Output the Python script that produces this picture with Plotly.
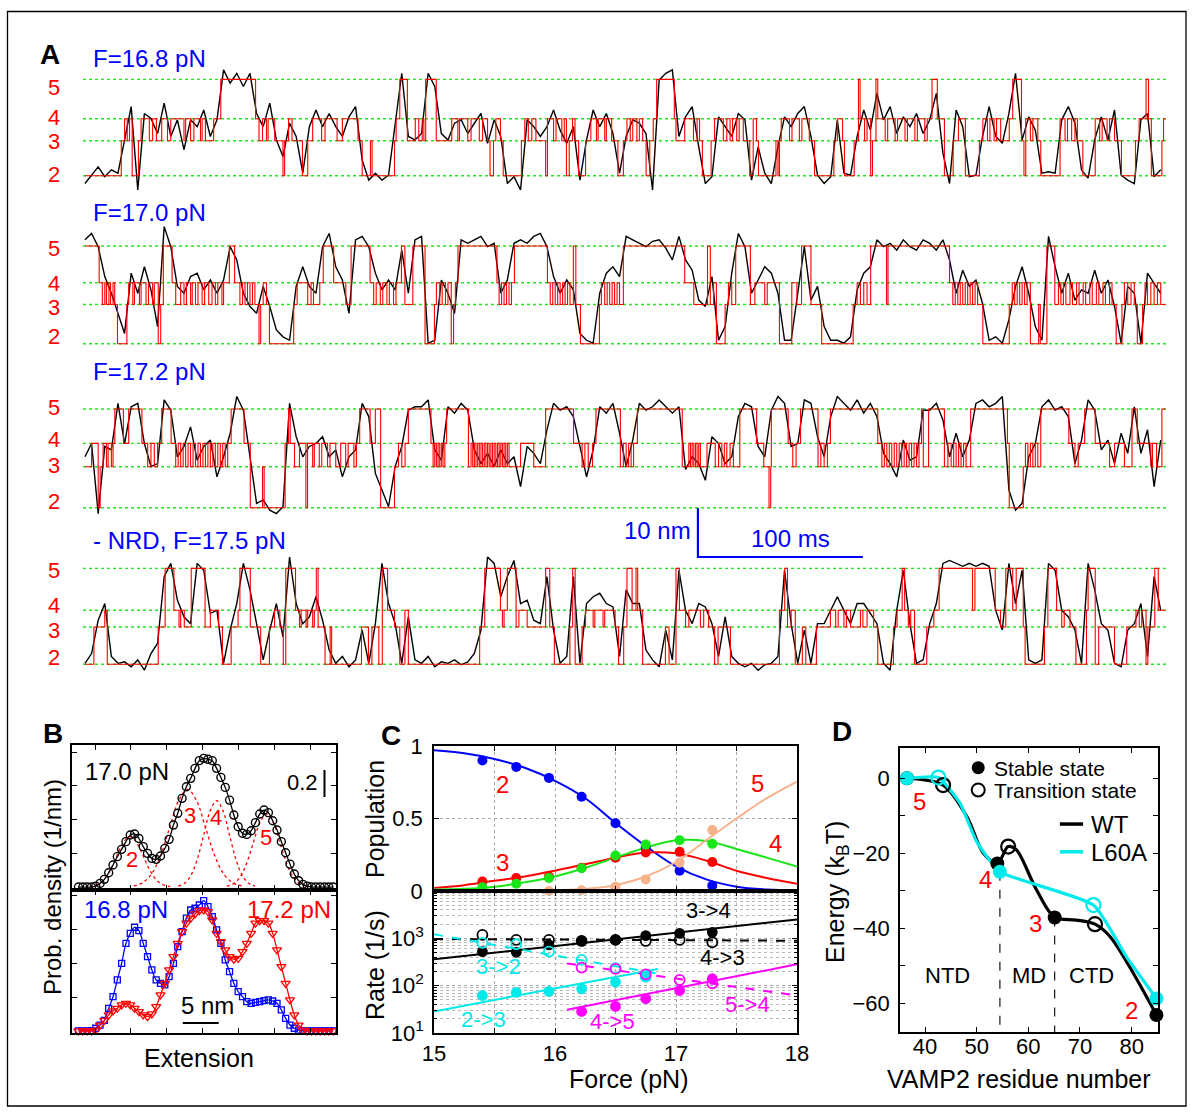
import numpy as np
import plotly.graph_objects as go

# ---------------------------------------------------------------- data ----
# Panel A: red step traces as (state, segment end time in ms)
T1_STEPS = [
(2,22),(3,24),(4,25.6),(3,27),(4,28.6),(2,32.4),(3,34),
(4,39),(3,41),(4,43.3),(3,46.5),(4,50),(3,52),(4,60),(3,61),(4,64),(3,66),(4,70),(3,71),(4,73),(3,78),(4,82.3),
(5,103.4),(4,105.5),(3,107.6),(4,110),(3,111),(4,115),(3,120),(2,121),(3,123.4),(4,125.5),(3,131.8),(2,135),(3,138),
(4,143.4),(3,145.5),(4,152.8),(3,156),(4,165.5),(3,168),(2,173),(3,174),(2,187.6),(3,188.6),(4,190.8),(5,195.4),
(3,200.2),(4,202.3),(3,204.4),(4,205.4),(3,206.5),(5,212.9),(3,222.3),
(4,226),(3,227),(4,232),(3,234),(4,239),(3,241),(4,244),(3,245.5),(2,247.6),(3,249),(4,251.8),(3,253.5),(2,264.5),(3,266.6),(4,268.7),(3,270.8),(4,273.3),(3,279.2),(2,280.3),
(4,284),(3,285.5),(4,289),(3,290.5),(4,291.8),(2,293.5),(3,295.5),(4,297),(3,299.2),(2,303.4),(3,306.6),
(4,310),(3,311),(4,315),(3,316),(4,319.2),(3,323),(2,326.3),
(3,328.5),(4,330.5),(3,332),(4,334.5),(3,336),(4,338),(3,340.1),(2,342.3),(3,344.4),(4,346.5),(5,357.2),(4,358.2),(3,363.5),(4,368.8),(3,371),(4,372.5),(3,374.2),(2,379.5),(3,381.6),(4,386.9),
(3,389),(4,391),(3,392.5),(4,395),(3,396.5),(4,399),(3,402.9),(2,405),(4,407),(3,408.2),(2,418.8),(3,420),(2,420.9),(3,422),
(4,427),(3,428.5),(4,433),(3,434.5),(4,439),(3,442.2),(2,453.9),(3,456),(4,459.2),(3,460.3),(2,466.2),(3,468.8),(5,469.8),(4,472.5),(3,474),(4,476.2),(2,477.3),(3,479.4),(5,480.5),
(4,485),(3,486.5),(4,491),(3,492.5),(4,497),(3,498.5),(4,503),(3,504.5),(4,509),(3,510.5),(4,513.4),(5,516.6),(4,520.9),(2,526.2),(3,529.4),(4,533.6),(2,542.1),(3,544.2),
(4,547),(3,548.5),(4,551),(3,552.5),(4,555),(3,560.2),(4,562.3),(5,567.6),(3,569.1),(2,570.2),
(4,573),(3,574.5),(4,577.5),(3,579.3),(2,591),
(4,594),(3,595.5),(4,598),(3,600),(4,601.5),(3,604.8),(2,612.3),
(4,615),(3,616.5),(4,619.5),(3,621),(4,624),(3,628.2),(2,636.7),(3,638.9),(4,643.1),(5,644.6),(4,646.3),(2,652.7),(3,653.7),(4,655)]

T2_STEPS = [
(5,8.6),(4,10.5),(3,12),(4,13),(3,14.5),(4,15.5),(3,17),(4,18),(3,19.7),(2,25.4),
(3,26.5),(4,29),(3,30),(4,33),(3,34),(4,37),(3,38.5),(4,41),(3,42),(4,44.4),(2,45.9),(3,47.5),(5,52.8),
(4,55),(3,58),(4,60),(3,61.5),(4,64),(3,65),(4,67),(3,68.5),(4,71),(3,72.5),(4,75),(3,77),(4,79),(3,80.5),(4,83),(3,84),(4,87.5),(5,90.7),(4,93.9),
(3,95.5),(4,97),(3,98.5),(4,100),(3,101.5),(4,103),(3,105.5),(2,106.5),(3,108),(4,110),(3,111.8),(2,126.5),(3,128.6),(4,135),(3,137),(4,138.5),(3,142.3),(4,144.4),(5,150.7),(4,158.1),(3,161.3),(5,172.8),
(4,175),(3,176.5),(4,179),(3,180.5),(4,183),(3,184.5),(4,187),(3,188.5),(4,191.8),(5,193.9),(3,198.7),(5,206.1),(2,211.8),
(3,213),(4,215),(3,216.5),(4,218.5),(3,220),(4,222),(2,223.4),(3,224.5),(4,226.1),(5,249.7),
(4,251),(3,252.5),(4,254),(3,255.5),(4,257),(3,258.5),(4,260.3),(5,280.3),
(4,282),(3,283.5),(4,285),(3,286.5),(4,288),(3,289.5),(4,291),(3,292.5),(4,294),(3,296),(5,297.5),(3,300.3),(2,311.8),
(3,313),(4,315),(3,316.5),(4,318),(3,319.5),(4,321),(3,322.5),(4,324),(3,326.3),(5,363.5),
(4,369),(3,377.3),(5,379),(3,381),(4,382.7),(2,388),(3,390),(4,392),(3,394.4),(5,403.3),(3,406),(4,412),(3,413.5),(4,420.9),(2,428.4),(4,431.5),(3,434.3),(5,440),(3,446.5),(2,465.6),
(3,468),(4,470),(3,472),(4,474),(3,476.2),(5,485.8),(3,486.7),(5,524),
(4,526),(3,527.5),(4,529),(3,530.5),(4,532),(3,533.5),(4,535),(3,536.5),(4,538),(3,539.5),(4,541),(3,544.2),(2,560.2),
(3,562),(4,563.5),(3,565),(4,566.5),(3,568),(4,569.5),(3,571),(4,573),(2,578),(3,579),(2,583),(5,587.8),
(3,590),(4,591.5),(3,593),(4,594.5),(3,597),(4,598.5),(3,601),(4,602.5),(3,605),(4,606.5),(3,609),(4,610.5),(3,613),(4,614.5),(3,617),(4,618.5),(3,621),(4,622.5),(3,625),(2,628.5),
(3,630),(4,632),(3,634),(4,636),(3,637.8),(2,641),(3,642.5),(4,644),(3,646),(4,648),(3,650),(4,652),(3,655)]

T3_STEPS = [
(3,4),(4,8),(2,9.2),(3,11),(4,13),(3,14),(4,16),(3,17),(4,18.1),(5,23.3),(4,26.5),(5,34.5),(4,38),(3,40),(4,42),(3,44),(4,46.5),(5,52.2),
(4,55),(3,56.5),(4,58),(3,59.5),(4,61),(3,62.5),(4,64),(3,65.5),(4,67),(3,68.5),(4,70),(3,71.5),(4,73),(3,74.5),(4,76),(3,77.5),(4,79),(3,80.5),(4,82),(3,83.5),(4,85),(3,86.5),(4,88.6),(5,96.4),(4,100.2),(2,107.6),(3,108.6),(2,121.3),(4,123.4),(5,124.4),
(4,127),(3,130),(4,133.9),(2,134.9),(4,138),(3,139),(4,142),(3,143.5),(4,147),(3,148.5),(4,152),(3,155),(4,158),(3,159.5),(4,163),(3,164.5),(4,166.5),(5,172.8),(4,176),(5,179.2),(2,187.6),(3,190),(4,192),(3,194),(4,196),(5,209.7),
(4,211),(3,212),(4,213),(3,214),(4,215),(3,216),(4,217),(3,218.1),(4,219.2),(5,232.4),
(3,234),(4,235),(3,236),(4,237),(3,238),(4,239),(3,240),(4,241),(3,242),(4,243),(3,244),(4,245),(3,246),(4,247),(3,248),(4,249),(3,250),(4,251),(3,252),(4,253),(3,254),(4,255),(3,256),(4,257),(3,264),(4,272),(3,279.2),(5,296.1),(4,301.3),(3,303),(4,305),(3,307.6),(4,309.7),(5,324.5),(3,326.3),
(4,328),(3,329.5),(4,331),(3,332.5),(4,334.8),(5,362),(3,366),(4,367),(3,368),(4,369),(3,370),(4,371),(3,372),(4,373),(3,377),(4,382),(3,384),(4,386),(3,387.5),(4,389),(3,391),(4,393),(3,396.9),(5,407.1),(4,411.4),(3,414.6),(2,415.6),(3,416),(5,426.2),(4,429),(3,431),(4,433.7),(5,444.3),(3,446),(4,448),(3,450),(4,451.8),(5,480.5),
(4,483),(3,484.5),(4,486),(3,487.5),(4,489),(3,490.5),(4,492),(3,493.5),(4,495),(3,496.5),(4,498),(3,499.5),(4,501),(3,502.5),(4,504),(3,505.5),(4,507),(5,508.1),(3,511.3),(5,520.9),
(3,523),(4,525),(3,526.5),(4,528),(3,529.5),(4,531),(3,532.5),(4,534),(3,536.8),(5,559.1),(4,560.2),(2,568.7),
(3,570),(4,571.5),(3,573),(4,574.5),(3,576),(4,577.5),(3,579.3),(5,596.3),(4,600),(3,602),(4,605.9),(5,612.3),(4,621),(3,624),(4,630),(3,634.6),(5,637.8),(4,646),(3,647),(4,649.5),(3,652.7),(5,655)]

T4_STEPS = [
(2,5.4),(3,12),(4,13.5),(2,44.4),(3,48.6),(5,53.9),(4,57),(3,58),(4,60.2),(3,64.4),(5,72.8),(3,76),(4,81),(3,83.3),(2,88.6),(3,92.8),(4,93.9),(5,100.2),(3,106.5),(2,111.8),(3,114.9),(4,118.1),(3,120.2),(2,121.7),(5,127.6),
(4,130),(3,131),(4,134),(3,135),(4,138),(3,139),(4,140.2),(5,141.3),(3,145.5),(2,148.6),(3,149.5),(2,167.6),(3,171.8),(2,173.9),(3,178.1),(2,180.2),(5,183.4),(4,187.6),(3,190.8),(2,193.9),(4,196),(2,239.2),(3,242.3),(5,251.8),(4,253),(3,254),(4,256),(5,261.3),(3,263),(4,268),(3,279.2),(5,281.7),(3,284.5),(2,293.9),(3,295.6),(5,297.1),(2,301.3),(3,303.4),(4,308),(3,309),(4,314),(3,315),(4,321.3),(3,323.4),(2,326.5),
(3,328.5),(5,331.6),(4,334),(5,335),(4,338),(2,351.8),(3,354),(2,358.2),(5,360.3),(4,364),(3,366),(4,373),(3,375),(4,378),(3,381.6),(2,383.7),(3,391.2),(2,420.9),(4,424.1),(5,425.8),(3,428),(4,430.5),(2,434.8),(3,436.9),(2,443.3),(3,451.8),
(4,455),(3,456.5),(4,460),(3,461.5),(4,464),(3,470),(4,471.5),(3,474),(4,478),(3,480.5),(2,490),(3,492.2),(4,495.3),(5,496.8),(4,499),(3,500.5),(4,502.8),(2,510.2),(3,514.5),(4,517.7),(5,537.9),(4,539.4),(5,551.7),(4,554.9),(3,558.1),(5,562.3),(4,564.4),(5,568.7),(3,569.8),(2,581.5),(3,583.6),(5,588.9),(4,592),(3,593.5),(4,597),(3,600.6),(2,607),(4,608),(5,612.3),(2,614.4),(3,624),(2,631.4),(3,637),(4,639),(3,640.5),(4,643.1),(2,644.2),(3,648.4),(5,650.5),(4,655)]

# state extensions (nm, relative to state 2) for each trace
T1_LEVELS = {2: 0.0, 3: 7.14, 4: 11.63, 5: 19.65}
T2_LEVELS = {2: 0.0, 3: 8.0, 4: 12.45, 5: 19.94}
T3_LEVELS = {2: 0.0, 3: 8.37, 4: 13.14, 5: 20.14}
T4_LEVELS = {2: 0.0, 3: 7.61, 4: 11.02, 5: 19.59}

# black raw extension traces (nm), one value every 4 ms
SAMPLE_MS = 4
T1_EXT = [-1.6,0.1,1.8,-0.2,1.2,0.5,7.3,14.1,-2.9,12.7,11.7,8.6,14.8,8.0,11.4,5.3,11.4,10.0,13.4,8.0,
11.4,21.6,18.9,20.9,18.2,20.9,12.7,10.0,14.8,7.3,3.9,10.7,8.0,0.5,10.0,13.4,10.0,12.7,10.0,8.0,
12.0,14.1,3.2,-0.9,0.5,-0.9,0.1,10.0,20.9,8.0,7.3,8.6,20.9,18.2,8.6,7.3,10.7,11.4,8.6,10.7,
12.7,6.6,11.4,8.0,-1.6,-0.2,-2.9,11.4,10.0,8.0,10.0,13.4,9.3,6.6,10.0,-0.9,7.3,13.4,10.0,12.7,8.6,0.5,
8.0,11.4,10.7,8.6,-2.9,19.5,20.9,21.6,8.0,12.0,14.1,5.9,-1.6,-0.2,12.0,10.0,8.0,12.7,11.4,-0.9,
5.9,0.5,-1.6,5.9,12.0,10.0,12.7,14.1,8.0,0.1,-1.6,-0.2,11.4,0.5,0.1,8.0,13.4,9.3,16.8,11.4,
14.1,8.6,12.0,10.0,12.7,8.6,11.4,16.8,4.6,-1.6,13.4,10.0,-0.2,0.1,8.0,14.1,8.0,6.6,12.7,20.9,
7.3,12.0,9.3,0.5,0.8,0.5,11.4,14.1,10.7,1.2,-0.5,7.3,12.0,7.3,13.4,0.1,-0.9,-1.6,11.4,12.7,-0.2,1.2]
T2_EXT = [21.2,22.5,19.8,13.7,10.3,6.2,2.1,14.4,10.3,15.7,11.0,3.5,23.9,19.8,11.7,10.3,13.7,14.4,11.0,13.0,
10.3,13.0,19.8,17.1,10.3,7.6,6.2,11.7,7.6,2.8,1.4,0.7,11.7,15.7,11.7,10.3,19.8,22.5,15.7,13.0,
6.2,21.2,21.9,19.8,14.4,11.0,13.0,11.0,19.1,10.3,21.2,21.9,0.1,0.7,13.0,10.3,6.2,21.2,20.5,21.2,
21.9,19.8,20.5,10.3,13.0,20.5,21.2,20.5,21.9,22.5,19.8,13.7,10.3,13.0,11.0,2.1,0.7,0.1,10.3,14.4,15.7,13.7,
21.9,21.2,20.5,19.8,20.9,21.2,19.5,17.1,21.9,17.1,15.0,8.9,7.6,13.7,0.7,3.5,14.4,22.5,19.8,10.3,
13.0,15.7,14.4,10.3,0.7,0.7,10.3,19.8,8.9,11.7,3.5,0.7,0.7,0.1,1.4,11.0,14.4,15.7,21.2,19.8,
20.5,19.1,21.2,19.8,19.1,21.2,20.5,19.1,21.2,17.1,10.3,15.0,11.7,13.0,8.2,0.7,1.4,0.1,4.9,11.7,
15.7,10.3,3.5,0.7,21.9,15.7,10.3,14.4,8.9,11.0,10.3,15.0,10.3,13.0,7.6,0.1,11.7,10.3,0.1,14.4,12.3,10.3]
T3_EXT = [10.4,13.1,-1.2,12.5,11.8,21.3,13.1,20.6,21.3,13.1,8.4,9.0,22.0,19.9,10.4,12.5,16.5,9.7,12.5,13.8,
6.3,10.4,15.2,22.7,19.9,10.4,0.9,1.6,-0.5,-1.2,0.2,21.3,14.5,10.4,12.5,13.1,14.5,10.4,11.8,6.3,
10.4,11.8,21.3,18.6,7.0,3.6,0.2,8.4,12.5,19.9,20.6,20.6,22.0,11.8,9.7,20.6,19.3,21.3,19.9,11.8,
9.0,11.1,8.4,11.8,9.0,10.4,4.3,12.5,11.1,9.0,15.9,21.3,19.9,20.6,18.6,12.5,6.3,11.8,20.6,19.3,21.3,15.2,
8.4,13.8,21.3,19.9,20.6,22.0,20.6,19.3,20.6,7.8,10.4,9.0,5.6,14.5,13.1,9.0,10.4,18.6,21.3,20.6,
12.5,10.4,19.9,22.7,21.3,12.5,13.1,22.0,21.3,14.5,10.4,18.6,22.7,21.3,19.9,22.0,19.3,21.3,18.6,11.1,
9.0,6.3,13.8,9.7,10.4,19.9,19.9,21.3,17.9,10.4,15.2,10.4,13.8,21.3,22.0,20.6,21.3,22.7,3.6,-0.5,
0.9,10.4,13.1,20.6,22.0,19.9,20.6,18.6,9.0,13.8,22.0,19.9,11.8,13.8,9.0,15.2,11.1,20.6,11.1,15.9,4.3,13.8]
T4_EXT = [0.2,2.2,9.0,12.4,1.6,0.2,0.5,-0.5,0.9,-1.2,2.2,4.3,17.9,20.6,13.1,9.7,8.3,20.6,19.2,10.4,
11.0,0.2,7.0,12.4,20.6,15.2,8.3,0.9,7.0,12.4,5.6,21.9,12.4,8.3,9.7,13.8,9.0,2.9,0.2,1.6,
-0.5,0.9,7.0,0.2,8.3,20.6,12.4,8.3,0.2,9.7,0.9,0.2,1.6,-0.5,0.5,0.2,0.9,-0.1,0.5,2.2,
7.0,21.9,20.6,13.8,17.9,21.2,12.4,13.1,9.0,8.3,17.9,7.0,0.2,1.6,17.9,0.2,12.4,13.8,14.5,12.4,11.7,1.6,
15.2,12.4,12.4,2.9,0.9,-0.5,7.0,0.9,19.2,11.0,8.3,12.4,11.7,8.3,1.6,9.7,1.6,0.2,-0.5,0.2,
-1.2,-0.1,0.2,1.6,19.2,8.3,0.2,7.0,0.2,8.3,8.3,11.0,13.8,11.0,8.3,12.4,12.4,10.4,8.3,0.2,
-1.2,11.0,19.2,8.3,0.2,0.9,8.3,12.4,20.6,21.2,20.6,20.0,20.6,20.0,20.6,20.0,11.0,7.0,20.6,12.4,
19.2,0.9,0.2,0.9,20.6,19.2,11.0,9.7,7.0,0.2,20.6,15.2,8.3,7.0,0.2,-0.5,7.0,8.3,12.4,1.6,17.9,11.0]

TRACE_LABELS = ["F=16.8 pN", "F=17.0 pN", "F=17.2 pN", "- NRD, F=17.5 pN"]

# Panel B: probability density histograms (1/nm) vs extension (nm)
BIN_NM = [-2.3,-1.7,-1.1,-0.5,0.1,0.7,1.3,1.9,2.5,3.1,3.7,4.3,4.9,5.5,6.1,6.7,7.3,7.9,8.5,9.1,
9.7,10.3,10.9,11.5,12.1,12.7,13.3,13.9,14.5,15.1,15.7,16.3,16.9,17.5,18.1,18.7,19.3,19.9,20.5,21.1,
21.7,22.3,22.9,23.5,24.1,24.7,25.3,25.9,26.5,27.1,27.7,28.3,28.9,29.5,30.1,30.7,31.3,31.9,32.5,33.1]
DENS_17_0 = [0,0,0,0,0.007,0.027,0.057,0.106,0.163,0.225,0.279,0.336,0.385,0.393,0.36,0.299,0.249,0.212,0.205,0.23,
0.286,0.353,0.459,0.546,0.657,0.743,0.805,0.879,0.936,0.953,0.946,0.936,0.879,0.812,0.738,0.644,0.533,0.447,0.398,0.39,
0.417,0.477,0.541,0.57,0.551,0.491,0.422,0.336,0.254,0.17,0.096,0.047,0.02,0.007,0,0,0,0,0,0]
DENS_16_8 = [0,0,0,0.002,0.02,0.044,0.079,0.168,0.254,0.378,0.501,0.649,0.723,0.768,0.743,0.649,0.551,0.452,0.378,0.353,
0.341,0.402,0.501,0.625,0.736,0.835,0.896,0.909,0.933,0.965,0.921,0.847,0.748,0.649,0.526,0.44,0.353,0.291,0.254,0.217,
0.205,0.212,0.217,0.225,0.23,0.222,0.205,0.156,0.094,0.044,0.02,0.007,0,0,0,0,0,0,0,0]
DENS_17_2 = [0,0,0,0,0.007,0.044,0.079,0.119,0.149,0.168,0.193,0.205,0.193,0.168,0.143,0.119,0.106,0.126,0.18,0.267,
0.353,0.452,0.551,0.649,0.736,0.798,0.835,0.867,0.891,0.896,0.884,0.822,0.723,0.662,0.6,0.551,0.531,0.538,0.588,0.649,
0.723,0.798,0.817,0.817,0.798,0.723,0.6,0.477,0.353,0.23,0.119,0.044,0.007,0,0,0,0,0,0,0]
# Gaussian fit components of the 17.0 pN histogram (sampled curves)
G2_X = [-0.72,0.21,1.14,2.07,3.0,3.93,4.86,5.79,6.72,7.65,8.58,9.51,10.44]
G2_Y = [0.004,0.016,0.05,0.121,0.226,0.329,0.373,0.329,0.226,0.121,0.05,0.016,0.004]
G3_X = [5.37,6.62,7.87,9.12,10.37,11.62,12.87,14.12,15.37,16.62,17.87,19.12,20.37]
G3_Y = [0.008,0.032,0.098,0.235,0.439,0.639,0.724,0.639,0.439,0.235,0.098,0.032,0.008]
G4_X = [11.56,12.45,13.34,14.23,15.12,16.01,16.9,17.79,18.68,19.57,20.46,21.35,22.24]
G4_Y = [0.007,0.028,0.087,0.208,0.388,0.564,0.64,0.564,0.388,0.208,0.087,0.028,0.007]
G5_X = [18.3,19.23,20.15,21.08,22.0,22.93,23.85,24.78,25.7,26.63,27.55,28.48,29.4]
G5_Y = [0.006,0.024,0.073,0.176,0.328,0.477,0.541,0.477,0.328,0.176,0.073,0.024,0.006]

# Panel C: state populations and transition rates vs force
FORCE = [15.4, 15.68, 15.95, 16.22, 16.5, 16.75, 17.03, 17.3]
POP2 = [0.90, 0.856, 0.78, 0.65, 0.467, 0.30, 0.14, 0.037]
POP3 = [0.065, 0.09, 0.10, 0.16, 0.23, 0.266, 0.27, 0.20]
POP4 = [0.026, 0.05, 0.09, 0.157, 0.245, 0.32, 0.35, 0.325]
FORCE5 = [15.95, 16.22, 16.5, 16.75, 17.03, 17.3]
POP5 = [0.0, 0.005, 0.03, 0.08, 0.195, 0.42]
FIT_F = [15.0, 15.25, 15.5, 15.75, 16.0, 16.25, 16.5, 16.75, 17.0, 17.25, 17.5, 17.75, 18.0]
FIT_POP2 = [0.97, 0.95, 0.91, 0.85, 0.76, 0.64, 0.47, 0.31, 0.17, 0.08, 0.03, 0.01, 0.003]
FIT_POP3 = [0.02, 0.04, 0.07, 0.10, 0.14, 0.185, 0.23, 0.265, 0.26, 0.21, 0.14, 0.09, 0.05]
FIT_POP4 = [0.01, 0.015, 0.03, 0.06, 0.10, 0.16, 0.23, 0.30, 0.35, 0.345, 0.29, 0.23, 0.168]
FIT5_F = [15.83, 16.0, 16.25, 16.5, 16.75, 17.0, 17.25, 17.5, 17.75, 18.0]
FIT_POP5 = [0.0, 0.003, 0.015, 0.04, 0.10, 0.20, 0.35, 0.50, 0.64, 0.755]

RATE_34 = [525, 507, 725, 880, 925, 1140, 1270, 1340]
RATE_43 = [1180, 925, 925, 880, 925, 880, 925, 825]
FORCE_23 = [15.4, 15.68, 15.95, 16.22, 16.5, 16.75]
RATE_32 = [800, 750, 525, 351, 234, 155]
RATE_23 = [62, 72, 76, 86, 119, 155]
FORCE_45 = [16.22, 16.5, 16.75, 17.03, 17.3]
RATE_54 = [241, 226, 174, 132, 112]
RATE_45 = [28.6, 36.5, 53, 79, 140]
FIT34_F, FIT34 = [15.0, 18.0], [361, 2500]
FIT43_F, FIT43 = [15.0, 18.0], [970, 890]
FIT23_F, FIT23 = [15.0, 16.85], [28.6, 226]
FIT32_F, FIT32 = [15.0, 16.85], [1215, 180]
FIT45_F, FIT45 = [16.1, 18.0], [31, 283]
FIT54_F, FIT54 = [16.1, 18.0], [295, 62]

# Panel D: energy landscape
WT_STABLE_RES = [36.5, 54.0, 65.1, 84.8]
WT_STABLE_E = [0, -22.7, -37.1, -63.1]
WT_TS_RES = [43.5, 56.1, 72.9]
WT_TS_E = [-1.8, -18.2, -38.9]
WT_CURVE_RES = [36.5, 43.5, 48.1, 51.3, 54.0, 56.1, 57.7, 61.6, 65.1, 69.3, 72.9, 75.8, 84.8]
WT_CURVE_E = [0, -1.8, -10.2, -20.0, -22.7, -18.2, -19.1, -29.8, -37.1, -37.8, -38.9, -42.2, -63.1]
L60A_STABLE_RES = [36.5, 54.5, 84.8]
L60A_STABLE_E = [0, -24.9, -58.7]
L60A_TS_RES = [42.6, 72.6]
L60A_TS_E = [0.2, -33.8]
L60A_CURVE_RES = [36.5, 42.6, 46.8, 50.0, 54.5, 72.6, 79.0, 84.8]
L60A_CURVE_E = [0, 0.2, -6.7, -16.9, -24.9, -33.8, -47.6, -58.7]
DOMAIN_BOUNDS = [(54.5, -24.9), (65.1, -37.1)]

# ------------------------------------------------------------- styling ----
W, H = 1193, 1117
FONT = "Arial, Liberation Sans, sans-serif"
BLUE, RED, GREEN_LV = "#0000ff", "#ff0000", "#22e622"
C_GREEN, C_PEACH, C_CYAN, C_MAG = "#19e619", "#f6b38b", "#00eaea", "#ff00ff"


def px(x):
    return x / W


def py(y):
    return 1 - y / H


fig = go.Figure()


def ann(text, x, y, size=22, color="black", xanchor="center", bold=False, angle=0):
    fig.add_annotation(text=f"<b>{text}</b>" if bold else text, x=px(x), y=py(y),
                       xref="paper", yref="paper", showarrow=False, xanchor=xanchor,
                       yanchor="middle", textangle=angle,
                       font=dict(family=FONT, size=size, color=color))


# ------------------------------------------------------------- panel A ----
traces = [(T1_STEPS, T1_LEVELS, T1_EXT), (T2_STEPS, T2_LEVELS, T2_EXT),
          (T3_STEPS, T3_LEVELS, T3_EXT), (T4_STEPS, T4_LEVELS, T4_EXT)]
BASES = [104.96, 70.67, 37.20, 5.24]          # vertical offsets of the 4 traces (nm)
LABEL_Y = [(87.5, 117, 141, 175), (248.5, 284, 307, 336), (407, 439, 466, 501), (570, 606, 630, 657)]
TITLE_Y = [58, 212.5, 371, 540]
for (steps, levels, ext), base in zip(traces, BASES):
    for s in (5, 4, 3, 2):
        fig.add_trace(go.Scatter(x=[-1.2, 655.2], y=[base + levels[s]] * 2, mode="lines",
                                 line=dict(color=GREEN_LV, dash="dot", width=1.4),
                                 xaxis="x", yaxis="y", hoverinfo="skip"))
    t = np.arange(len(ext)) * SAMPLE_MS
    fig.add_trace(go.Scatter(x=t, y=base + np.array(ext), mode="lines",
                             line=dict(color="black", width=1.4), xaxis="x", yaxis="y"))
    xs, ys = [0.0], []
    for s, e in steps:
        ys.append(base + levels[s])
        xs.append(e)
    ys.append(ys[-1])
    fig.add_trace(go.Scatter(x=xs, y=ys, mode="lines", line=dict(color=RED, width=1.1, shape="hv"),
                             xaxis="x", yaxis="y"))

for label, ty, ly in zip(TRACE_LABELS, TITLE_Y, LABEL_Y):
    ann(label, 91, ty, size=24, color=BLUE, xanchor="left")
    for s, yy in zip(("5", "4", "3", "2"), ly):
        ann(s, 54, yy, size=22, color=RED)

# scale bar (10 nm, 100 ms)
fig.add_trace(go.Scatter(x=[371.5, 371.5, 471.5], y=[37.14, 27.14, 27.14], mode="lines",
                         line=dict(color=BLUE, width=2.2), xaxis="x", yaxis="y"))
ann("10 nm", 693, 530, size=24, color=BLUE, xanchor="right")
ann("100 ms", 790, 538, size=24, color=BLUE)

# ------------------------------------------------------------- panel B ----
for gx, gy in ((G2_X, G2_Y), (G3_X, G3_Y), (G4_X, G4_Y), (G5_X, G5_Y)):
    fig.add_trace(go.Scatter(x=gx, y=gy, mode="lines", line=dict(color=RED, dash="dot", width=1.3, shape="spline"),
                             xaxis="x2", yaxis="y2"))
fig.add_trace(go.Scatter(x=BIN_NM, y=DENS_17_0, mode="lines+markers",
                         line=dict(color="black", width=1.3, shape="spline"),
                         marker=dict(symbol="circle-open", size=8, color="black", line=dict(width=1.4)),
                         xaxis="x2", yaxis="y2", cliponaxis=False))
fig.add_trace(go.Scatter(x=[31.9, 31.9], y=[0.667, 0.867], mode="lines", line=dict(color="black", width=2),
                         xaxis="x2", yaxis="y2"))
fig.add_trace(go.Scatter(x=BIN_NM, y=DENS_16_8, mode="lines+markers",
                         line=dict(color=BLUE, width=1.3, shape="spline"),
                         marker=dict(symbol="square-open", size=6, color=BLUE, line=dict(width=1.3)),
                         xaxis="x3", yaxis="y3", cliponaxis=False))
fig.add_trace(go.Scatter(x=BIN_NM, y=DENS_17_2, mode="lines+markers",
                         line=dict(color=RED, width=1.3, shape="spline"),
                         marker=dict(symbol="triangle-down-open", size=8, color=RED, line=dict(width=1.3)),
                         xaxis="x3", yaxis="y3", cliponaxis=False))
fig.add_trace(go.Scatter(x=[12.2, 17.2], y=[0.059, 0.059], mode="lines", line=dict(color="black", width=2),
                         xaxis="x3", yaxis="y3"))
ann("17.0 pN", 83, 771, size=24, xanchor="left")
ann("0.2", 320, 782, size=22, xanchor="right")
for s, (x, y) in zip("2345", ((131.5, 859.5), (190, 815.5), (216.5, 817.5), (266, 837.5))):
    ann(s, x, y, size=22, color=RED)
ann("16.8 pN", 82, 909, size=24, color=BLUE, xanchor="left")
ann("17.2 pN", 333, 909, size=24, color=RED, xanchor="right")
ann("5 nm", 207, 1005, size=24)
ann("Prob. density (1/nm)", 52, 887, size=24, angle=-90)
ann("Extension", 199, 1058, size=25)

# ------------------------------------------------------------- panel C ----
for fx_, fy_, col in ((FIT_F, FIT_POP2, BLUE), (FIT_F, FIT_POP3, RED), (FIT_F, FIT_POP4, C_GREEN),
                      (FIT5_F, FIT_POP5, C_PEACH)):
    fig.add_trace(go.Scatter(x=fx_, y=fy_, mode="lines", line=dict(color=col, width=2, shape="spline"),
                             xaxis="x4", yaxis="y4", cliponaxis=False))
for fx_, fy_, col in ((FORCE, POP2, BLUE), (FORCE, POP3, RED), (FORCE, POP4, C_GREEN), (FORCE5, POP5, C_PEACH)):
    fig.add_trace(go.Scatter(x=fx_, y=fy_, mode="markers", marker=dict(size=10, color=col),
                             xaxis="x4", yaxis="y4", cliponaxis=False))

for fx_, fy_, col, dash in ((FIT43_F, FIT43, "black", "dash"), (FIT34_F, FIT34, "black", "solid"),
                            (FIT32_F, FIT32, C_CYAN, "dash"), (FIT23_F, FIT23, C_CYAN, "solid"),
                            (FIT54_F, FIT54, C_MAG, "dash"), (FIT45_F, FIT45, C_MAG, "solid")):
    fig.add_trace(go.Scatter(x=fx_, y=fy_, mode="lines", line=dict(color=col, width=2, dash=dash),
                             xaxis="x5", yaxis="y5"))
for fx_, fy_, col, sym in ((FORCE, RATE_43, "black", "circle-open"), (FORCE, RATE_34, "black", "circle"),
                           (FORCE_23, RATE_32, C_CYAN, "circle-open"), (FORCE_23, RATE_23, C_CYAN, "circle"),
                           (FORCE_45, RATE_54, C_MAG, "circle-open"), (FORCE_45, RATE_45, C_MAG, "circle")):
    fig.add_trace(go.Scatter(x=fx_, y=fy_, mode="markers",
                             marker=dict(symbol=sym, size=10 if sym == "circle-open" else 9, color=col,
                                         line=dict(width=1.8, color=col)),
                             xaxis="x5", yaxis="y5", cliponaxis=False))
ann("2", 502, 784, size=24, color=RED)
ann("3", 502, 862, size=24, color=RED)
ann("5", 757, 783, size=24, color=RED)
ann("4", 775, 843, size=24, color=RED)
ann("3->4", 708, 910, size=22)
ann("4->3", 722, 957, size=22)
ann("3->2", 498, 966, size=22, color=C_CYAN)
ann("2->3", 483, 1019, size=22, color=C_CYAN)
ann("4->5", 612, 1021, size=22, color=C_MAG)
ann("5->4", 747, 1004, size=22, color=C_MAG)
ann("Population", 375, 819, size=25, angle=-90)
ann("Rate (1/s)", 375, 965, size=25, angle=-90)
ann("Force (pN)", 628, 1079, size=25)

# ------------------------------------------------------------- panel D ----
for bx, be in DOMAIN_BOUNDS:
    fig.add_trace(go.Scatter(x=[bx, bx], y=[be, -67.65], mode="lines",
                             line=dict(color="black", width=1.1, dash="dash"), xaxis="x6", yaxis="y6"))
fig.add_trace(go.Scatter(x=WT_CURVE_RES, y=WT_CURVE_E, mode="lines",
                         line=dict(color="black", width=3.2, shape="spline", smoothing=0.9),
                         xaxis="x6", yaxis="y6"))
fig.add_trace(go.Scatter(x=L60A_CURVE_RES, y=L60A_CURVE_E, mode="lines",
                         line=dict(color=C_CYAN, width=3.2, shape="spline", smoothing=0.5),
                         xaxis="x6", yaxis="y6"))
fig.add_trace(go.Scatter(x=WT_STABLE_RES, y=WT_STABLE_E, mode="markers",
                         marker=dict(size=14, color="black"), xaxis="x6", yaxis="y6", cliponaxis=False))
fig.add_trace(go.Scatter(x=WT_TS_RES, y=WT_TS_E, mode="markers",
                         marker=dict(symbol="circle-open", size=14, color="black", line=dict(width=2.2)),
                         xaxis="x6", yaxis="y6", cliponaxis=False))
fig.add_trace(go.Scatter(x=L60A_STABLE_RES, y=L60A_STABLE_E, mode="markers",
                         marker=dict(size=14, color=C_CYAN), xaxis="x6", yaxis="y6", cliponaxis=False))
fig.add_trace(go.Scatter(x=L60A_TS_RES, y=L60A_TS_E, mode="markers",
                         marker=dict(symbol="circle-open", size=14, color=C_CYAN, line=dict(width=2.2)),
                         xaxis="x6", yaxis="y6", cliponaxis=False))
# legend glyphs
fig.add_trace(go.Scatter(x=[50.3], y=[2.83], mode="markers", marker=dict(size=13, color="black"),
                         xaxis="x6", yaxis="y6"))
fig.add_trace(go.Scatter(x=[50.3], y=[-3.1], mode="markers",
                         marker=dict(symbol="circle-open", size=13, color="black", line=dict(width=2)),
                         xaxis="x6", yaxis="y6"))
fig.add_trace(go.Scatter(x=[66.1, 70.6], y=[-12.2, -12.2], mode="lines", line=dict(color="black", width=3.5),
                         xaxis="x6", yaxis="y6"))
fig.add_trace(go.Scatter(x=[66.1, 70.6], y=[-19.6, -19.6], mode="lines", line=dict(color=C_CYAN, width=3.5),
                         xaxis="x6", yaxis="y6"))
ann("Stable state", 992, 768, size=21, xanchor="left")
ann("Transition state", 992, 790, size=21, xanchor="left")
ann("WT", 1089, 824, size=24, xanchor="left")
ann("L60A", 1089, 852, size=24, xanchor="left")
for s, (x, y) in zip("5432", ((920, 801.5), (985, 879), (1035, 923.5), (1131.5, 1010))):
    ann(s, x, y, size=24, color=RED)
ann("NTD", 947.5, 975, size=22)
ann("MD", 1028.5, 975, size=22)
ann("CTD", 1091, 975, size=22)
ann("Energy (k<sub>B</sub>T)", 837, 892, size=25, angle=-90)
ann("VAMP2 residue number", 1019, 1079, size=25)

# panel letters
ann("A", 49.5, 55, size=28, bold=True)
ann("B", 53, 733.5, size=28, bold=True)
ann("C", 391, 735, size=28, bold=True)
ann("D", 842, 731.5, size=28, bold=True)

# ---------------------------------------------------------------- axes ----
TICKFONT = dict(family=FONT, size=22, color="black")


def box(**kw):
    d = dict(showline=True, linecolor="black", linewidth=1.6, mirror="ticks", ticks="inside",
             tickcolor="black", ticklen=5, tickwidth=1.2, zeroline=False, showgrid=False,
             tickfont=TICKFONT, automargin=False)
    d.update(kw)
    return d


GRID = dict(showgrid=True, gridcolor="#a8a8a8", griddash="dot", gridwidth=1)
C_MINOR_X = dict(tickvals=[15.5, 16.5, 17.5], showgrid=True, gridcolor="#a8a8a8", griddash="dot",
                 ticks="inside", ticklen=5, tickcolor="black")

fig.update_layout(
    width=W, height=H, autosize=False,
    margin=dict(l=0, r=0, t=0, b=0, pad=0, autoexpand=False), showlegend=False,
    paper_bgcolor="white", plot_bgcolor="white",
    xaxis=dict(domain=[px(83), px(1166)], range=[-1.2, 655.2], visible=False, anchor="y", automargin=False),
    yaxis=dict(domain=[py(690), py(45)], range=[0, 131.63], visible=False, anchor="x", automargin=False),
    # panel B
    xaxis2=box(domain=[px(72), px(336)], range=[-3.2, 33.5], anchor="y2", tickvals=[0, 5, 10, 15, 20, 25, 30],
               showticklabels=False),
    yaxis2=box(domain=[py(890), py(745)], range=[-0.022, 1.052], anchor="x2", tickvals=[0.25, 0.5, 0.75, 1.0],
               showticklabels=False),
    xaxis3=box(domain=[px(72), px(336)], range=[-3.2, 33.5], anchor="y3", tickvals=[0, 5, 10, 15, 20, 25, 30],
               showticklabels=False),
    yaxis3=box(domain=[py(1033), py(890)], range=[-0.015, 1.044], anchor="x3", tickvals=[0.25, 0.5, 0.75, 1.0],
               showticklabels=False),
    # panel C
    xaxis4=box(domain=[px(434), px(797)], range=[15, 18], anchor="y4", tickvals=[15, 16, 17, 18],
               showticklabels=False, minor=C_MINOR_X, **GRID),
    yaxis4=box(domain=[py(891), py(746)], range=[0, 1], anchor="x4", tickvals=[0, 0.5, 1],
               ticktext=["0", "0.5", "1"], ticklabelstandoff=5, **GRID),
    xaxis5=box(domain=[px(434), px(797)], range=[15, 18], anchor="y5", tickvals=[15, 16, 17, 18],
               ticktext=["15", "16", "17", "18"], ticklabelstandoff=0, minor=C_MINOR_X, **GRID),
    yaxis5=box(domain=[py(1033), py(891)], type="log", range=[1, 4], anchor="x5", tickvals=[10, 100, 1000],
               ticktext=["10<sup>1</sup>", "10<sup>2</sup>", "10<sup>3</sup>"], ticklabelstandoff=4,
               minor=dict(tickvals=[20, 30, 40, 50, 60, 70, 80, 90, 200, 300, 400, 500, 600, 700, 800, 900,
                                    2000, 3000, 4000, 5000, 6000, 7000, 8000, 9000],
                          showgrid=True, gridcolor="#b8b8b8", griddash="dot", ticks="inside", ticklen=3,
                          tickcolor="black"),
               **GRID),
    # panel D
    xaxis6=box(domain=[px(900), px(1158)], range=[35.16, 85.1], anchor="y6", tickvals=[40, 50, 60, 70, 80],
               ticklabelstandoff=-6),
    yaxis6=box(domain=[py(1032), py(748)], range=[-67.65, 8.08], anchor="x6",
               tickvals=[-60, -40, -20, 0], ticktext=["\u221260", "\u221240", "\u221220", "0"],
               ticklabelstandoff=4,
               minor=dict(tickvals=[-50, -30, -10], ticks="inside", ticklen=5, tickcolor="black")),
)

# outer frame
fig.add_shape(type="rect", xref="paper", yref="paper", x0=px(7.5), x1=px(1186), y0=py(1106), y1=py(11.5),
              line=dict(color="black", width=1.3))

fig.write_html("out.html",
               post_script="document.body.style.margin='0px';document.body.style.padding='0px';"
                           "document.body.style.overflow='hidden';")
